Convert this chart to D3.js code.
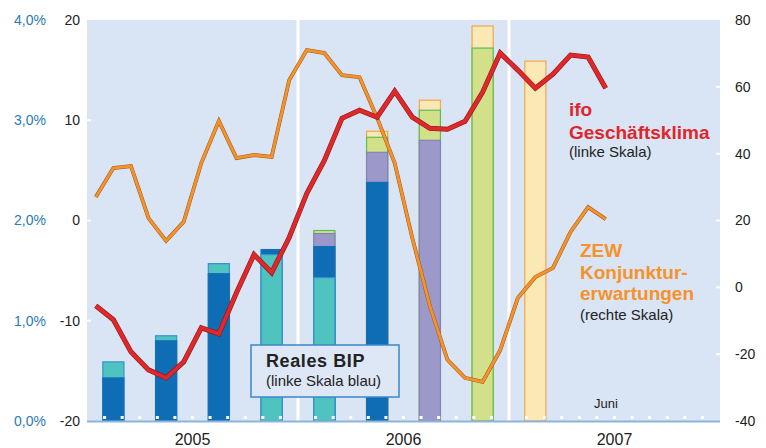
<!DOCTYPE html>
<meta charset="utf-8">
<style>
    body {
        margin: 0;
        background: #fff;
        font-family: "Liberation Sans", Arial, sans-serif;
    }
    .axis text {
        font-size: 14px;
    }
</style>
<script src="https://d3js.org/d3.v7.min.js"></script>
<div id="chart"></div>
<script>

    // monthly values Jan 2005 .. Jun 2007
    var ifo = [-8.5, -9.9, -13.1, -14.9, -15.7, -14.1, -10.7, -11.3, -7.2, -3.4, -5.2, -1.7,
               2.7, 6.0, 10.2, 11.0, 10.3, 12.9, 10.3, 9.2, 9.1, 9.9, 12.8, 16.7,
               15.0, 13.2, 14.6, 16.5, 16.3, 13.2];
    var zew = [27.0, 35.7, 36.3, 20.7, 13.9, 19.6, 37.2, 49.8, 38.7, 39.6, 39.0, 62.0,
               71.0, 70.1, 63.5, 62.9, 50.7, 37.2, 14.8, -5.6, -21.7, -27.1, -28.3, -18.8,
               -3.2, 3.1, 5.8, 16.6, 24.0, 20.4];

    // Reales BIP, quarters Q1 2005 .. Q1 2007, one array per estimate
    var quarters = ["I/05", "II/05", "III/05", "IV/05", "I/06", "II/06", "III/06", "IV/06", "I/07"];
    var bipBlue   = [0.43, 0.80, 1.47, 1.71, 1.74, 2.38, null, null, null];
    var bipTeal   = [0.59, 0.85, 1.57, 1.66, 1.43, null, null, null, null];
    var bipPurple = [null, null, null, null, 1.87, 2.68, 2.80, null, null];
    var bipGreen  = [null, null, null, null, 1.90, 2.83, 3.10, 3.72, null];
    var bipYellow = [null, null, null, null, null, 2.89, 3.20, 3.94, 3.59];

    var years = ["2005", "2006", "2007"];
    var leftTicks = [-20, -10, 0, 10, 20];
    var rightTicks = [-40, -20, 0, 20, 40, 60, 80];
    var pctTicks = [0, 1, 2, 3, 4];

    var estimates = [
        {values: bipBlue,   fill: "#0f6db5", stroke: "#1470b5"},
        {values: bipTeal,   fill: "#4fc3c0", stroke: "#3a92cf"},
        {values: bipPurple, fill: "#9c98ca", stroke: "#8284b8"},
        {values: bipGreen,  fill: "#d3e08a", stroke: "#5cbd50"},
        {values: bipYellow, fill: "#fae9b5", stroke: "#f5a54c"}
    ];

    var plotLeft = 87, plotRight = 720, plotTop = 20, plotBottom = 421;

    var svg = d3.select("#chart")
        .append("svg")
        .attr("width", 766)
        .attr("height", 448);

    var x = d3.scaleLinear().domain([0, 36]).range([plotLeft, plotRight]);
    var yL = d3.scaleLinear().domain([-20, 20]).range([plotBottom, plotTop]);
    var yR = d3.scaleLinear().domain([-40, 80]).range([plotBottom, plotTop]);
    var yP = d3.scaleLinear().domain([0, 4]).range([plotBottom, plotTop]);

    svg.append("rect")
        .attr("x", plotLeft)
        .attr("y", plotTop)
        .attr("width", plotRight - plotLeft)
        .attr("height", plotBottom - plotTop)
        .style("fill", "#d9e4f4");

    // year separators
    svg.selectAll("yearline")
        .data([12, 24])
        .enter()
        .append("line")
        .attr("x1", function(d) { return x(d); })
        .attr("x2", function(d) { return x(d); })
        .attr("y1", plotTop)
        .attr("y2", plotBottom)
        .style("stroke", "#fff")
        .style("stroke-width", 3);

    // white tick marks inside the panel
    svg.selectAll("ltick")
        .data([-10, 0, 10])
        .enter()
        .append("rect")
        .attr("x", plotLeft)
        .attr("y", function(d) { return yL(d) - 1; })
        .attr("width", 4)
        .attr("height", 2)
        .style("fill", "#fff");
    svg.selectAll("rtick")
        .data([-20, 0, 20, 40, 60])
        .enter()
        .append("rect")
        .attr("x", plotRight - 4)
        .attr("y", function(d) { return yR(d) - 1; })
        .attr("width", 4)
        .attr("height", 2)
        .style("fill", "#fff");

    // bars: every estimate drawn from zero, largest at the back
    var barW = x(1.2) - x(0);
    quarters.forEach(function(q, i) {
        var list = estimates
            .filter(function(e) { return e.values[i] != null; })
            .map(function(e) { return {v: e.values[i], fill: e.fill, stroke: e.stroke}; })
            .sort(function(a, b) { return b.v - a.v; });
        var cx = x(3 * i + 1.5);
        svg.selectAll("bar" + i)
            .data(list)
            .enter()
            .append("rect")
            .attr("x", cx - barW / 2)
            .attr("width", barW)
            .attr("y", function(d) { return yP(d.v); })
            .attr("height", function(d) { return yP(0) - yP(d.v); })
            .style("fill", function(d) { return d.fill; })
            .style("stroke", function(d) { return d.stroke; })
            .style("stroke-width", 1.2);
    });

    // month dots
    var months = d3.range(1, 36).filter(function(m) { return m % 12 !== 0; });
    svg.selectAll("dot")
        .data(months)
        .enter()
        .append("rect")
        .attr("x", function(d) { return x(d) - 1.5; })
        .attr("y", plotBottom - 5)
        .attr("width", 3)
        .attr("height", 3)
        .style("fill", "#fff");

    svg.append("line")
        .attr("x1", plotLeft)
        .attr("x2", plotRight)
        .attr("y1", plotBottom + 0.5)
        .attr("y2", plotBottom + 0.5)
        .style("stroke", "#8db5dc")
        .style("stroke-width", 2);

    // lines
    var zewLine = d3.line()
        .x(function(d, i) { return x(i + 0.5); })
        .y(function(d) { return yR(d); });
    var ifoLine = d3.line()
        .x(function(d, i) { return x(i + 0.5); })
        .y(function(d) { return yL(d); });

    svg.append("path").attr("d", zewLine(zew))
        .style("fill", "none").style("stroke", "#9a5a1c").style("stroke-width", 3.8)
        .style("stroke-linejoin", "miter");
    svg.append("path").attr("d", zewLine(zew))
        .style("fill", "none").style("stroke", "#f7922a").style("stroke-width", 2.8)
        .style("stroke-linejoin", "miter");

    svg.append("path").attr("d", ifoLine(ifo))
        .style("fill", "none").style("stroke", "#8a1818").style("stroke-width", 5)
        .style("stroke-linejoin", "miter");
    svg.append("path").attr("d", ifoLine(ifo))
        .style("fill", "none").style("stroke", "#e0282b").style("stroke-width", 3.8)
        .style("stroke-linejoin", "miter");

    // axes (hyphen as minus sign, comma as decimal mark)
    var de = d3.formatLocale({decimal: ",", thousands: ".", grouping: [3], currency: ["", " €"], minus: "-"});
    var pctFmt = de.format(".1f");
    var numFmt = de.format("d");

    var axL = svg.append("g")
        .attr("class", "axis")
        .attr("transform", "translate(" + plotLeft + ",0)")
        .call(d3.axisLeft(yL).tickValues(leftTicks).tickSize(0).tickPadding(7).tickFormat(numFmt));
    axL.selectAll("text").style("fill", "#222");

    var axP = svg.append("g")
        .attr("class", "axis")
        .attr("transform", "translate(" + plotLeft + ",0)")
        .call(d3.axisLeft(yP).tickValues(pctTicks).tickSize(0).tickPadding(41)
            .tickFormat(function(d) { return pctFmt(d) + "%"; }));
    axP.selectAll("text").style("fill", "#2b79b7");

    var axR = svg.append("g")
        .attr("class", "axis")
        .attr("transform", "translate(" + plotRight + ",0)")
        .call(d3.axisRight(yR).tickValues(rightTicks).tickSize(0).tickPadding(15).tickFormat(numFmt));
    axR.selectAll("text").style("fill", "#222");

    svg.selectAll(".axis .domain").remove();

    svg.selectAll("yearlabel")
        .data(years)
        .enter()
        .append("text")
        .attr("x", function(d, i) { return x(12 * i + 6); })
        .attr("y", 445)
        .attr("text-anchor", "middle")
        .style("font-size", "16px")
        .style("fill", "#222")
        .text(function(d) { return d; });

    svg.append("text")
        .attr("x", 594)
        .attr("y", 408)
        .style("font-size", "13px")
        .style("fill", "#222")
        .text("Juni");

    // Reales BIP box
    svg.append("rect")
        .attr("x", 251)
        .attr("y", 345)
        .attr("width", 148)
        .attr("height", 52)
        .style("fill", "#dde7f5")
        .style("stroke", "#3a88c8")
        .style("stroke-width", 1.5);
    svg.append("text")
        .attr("x", 266)
        .attr("y", 367)
        .style("font-size", "18px")
        .style("font-weight", "bold")
        .style("letter-spacing", "0.6px")
        .style("fill", "#222")
        .text("Reales BIP");
    svg.append("text")
        .attr("x", 266)
        .attr("y", 386)
        .style("font-size", "15px")
        .style("fill", "#222")
        .text("(linke Skala blau)");

    // ifo label
    var ifoLabel = [["ifo", 116], ["Geschäftsklima", 139]];
    ifoLabel.forEach(function(t) {
        svg.append("text")
            .attr("x", 569)
            .attr("y", t[1])
            .style("font-size", "19px")
            .style("font-weight", "bold")
            .style("fill", "#e0262b")
            .text(t[0]);
    });
    svg.append("text")
        .attr("x", 569)
        .attr("y", 157)
        .style("font-size", "15px")
        .style("fill", "#222")
        .text("(linke Skala)");

    // ZEW label
    var zewLabel = [["ZEW", 257], ["Konjunktur-", 279], ["erwartungen", 300]];
    zewLabel.forEach(function(t) {
        svg.append("text")
            .attr("x", 580)
            .attr("y", t[1])
            .style("font-size", "19px")
            .style("font-weight", "bold")
            .style("fill", "#f5922a")
            .text(t[0]);
    });
    svg.append("text")
        .attr("x", 580)
        .attr("y", 320)
        .style("font-size", "15px")
        .style("fill", "#222")
        .text("(rechte Skala)");

</script>
